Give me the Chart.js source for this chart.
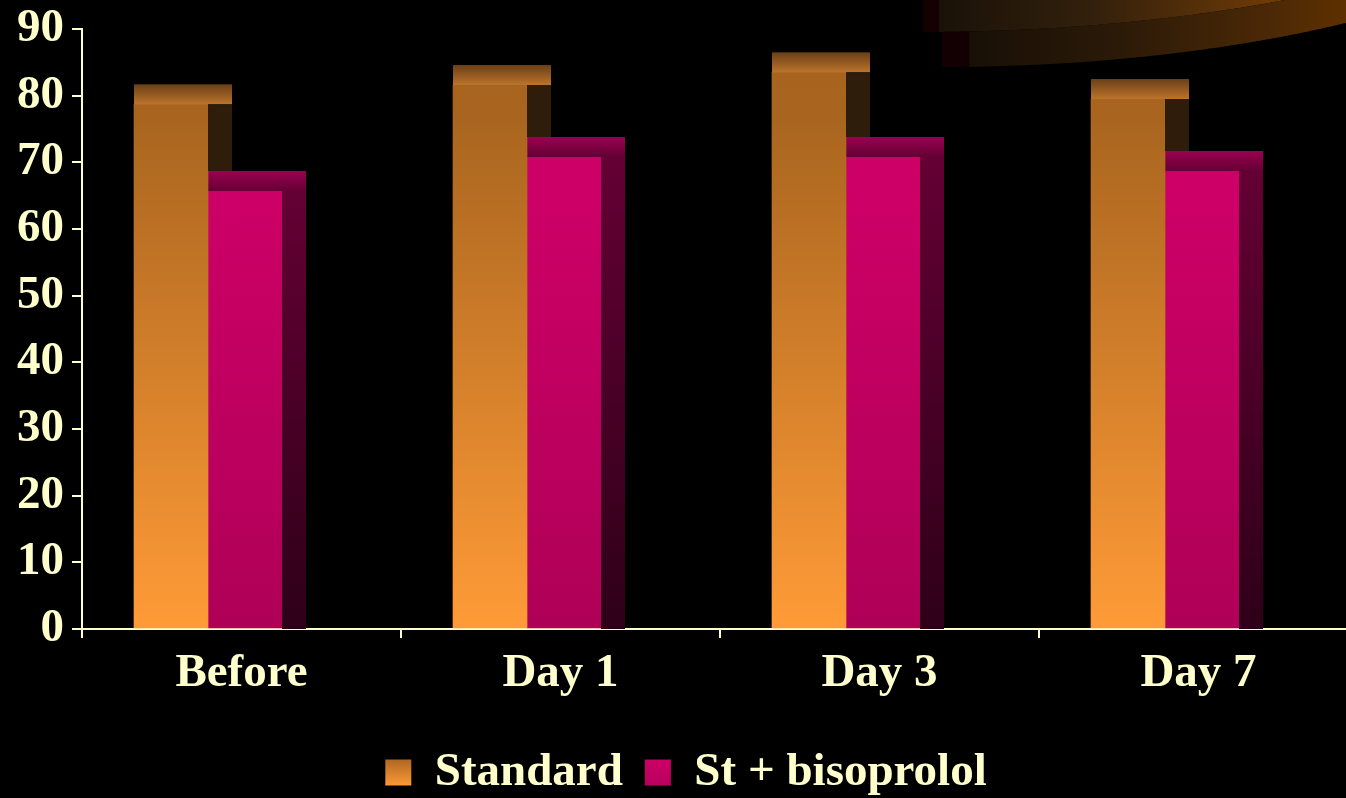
<!DOCTYPE html>
<html>
<head>
<meta charset="utf-8">
<title>Standard vs St + bisoprolol</title>
<script src="https://cdn.jsdelivr.net/npm/chart.js@4.4.1/dist/chart.umd.min.js"></script>
<style>
  html, body { margin: 0; padding: 0; background: #000; overflow: hidden; }
  #wrap { position: relative; width: 1360px; height: 806px; background: #000; }
  canvas { display: block; }
</style>
</head>
<body>
<div id="wrap"><canvas id="chart" width="1360" height="806"></canvas></div>
<script>
// ---- data ----
const categories = ['Before', 'Day 1', 'Day 3', 'Day 7'];
const seriesNames = ['Standard', 'St + bisoprolol'];
const standardValues = [78.7, 81.6, 83.5, 79.5];
const bisoprololValues = [65.7, 70.8, 70.8, 68.7];
const yTickValues = [0, 10, 20, 30, 40, 50, 60, 70, 80, 90];

// ---- styling ----
const FONT = "'Liberation Serif', 'Times New Roman', serif";
const CREAM = '#FFFFCC';
const DEPTH_X = 24;   // oblique depth of the 3D columns
const DEPTH_Y = 20;
const faces = [
  { front: [['0', '#A8641F'], ['0.15', '#A9651F'], ['1', '#FF9B37']],
    top: ['#6A3F17', '#BC742B'], side: ['#2F1D0C', '#2F1D0C'] },
  { front: [['0', '#CC0066'], ['0.3', '#CC0066'], ['1', '#AF0057']],
    top: ['#9A0050', '#640034'], side: ['#640034', '#2E0018'] }
];

function frontFill(index) {
  return (c) => {
    const area = c.chart.chartArea;
    if (!area) return faces[index].front[0][1];
    const g = c.chart.ctx.createLinearGradient(0, area.top, 0, area.bottom);
    faces[index].front.forEach(([o, col]) => g.addColorStop(+o, col));
    return g;
  };
}

// side and top faces of each column, drawn right after its own dataset;
// a side face stops where the next series' column (in front of it) begins
const columns3d = {
  id: 'columns3d',
  afterDatasetDraw(chart, args) {
    const ctx = chart.ctx;
    const di = args.index;
    const st = faces[di];
    const base = chart.scales.y.getPixelForValue(0);
    const nextMeta = di + 1 < chart.data.datasets.length ? chart.getDatasetMeta(di + 1) : null;
    ctx.save();
    args.meta.data.forEach((bar, i) => {
      const { x, y, width } = bar.getProps(['x', 'y', 'width'], true);
      const left = x - width / 2, right = x + width / 2;
      let g = ctx.createLinearGradient(0, y - DEPTH_Y, 0, y);
      g.addColorStop(0, st.top[0]); g.addColorStop(1, st.top[1]);
      ctx.fillStyle = g;
      ctx.fillRect(left, y - DEPTH_Y, width + DEPTH_X, DEPTH_Y);
      let sideBottom = base;
      if (nextMeta && nextMeta.data[i]) {
        const nb = nextMeta.data[i].getProps(['y'], true);
        sideBottom = Math.min(base, nb.y - DEPTH_Y);
      }
      if (sideBottom > y) {
        g = ctx.createLinearGradient(0, y, 0, base);
        g.addColorStop(0, st.side[0]); g.addColorStop(1, st.side[1]);
        ctx.fillStyle = g;
        ctx.fillRect(right, y, DEPTH_X, sideBottom - y);
      }
    });
    ctx.restore();
  }
};

// sweeping bronze ribbon in the top right corner
const ribbon = {
  id: 'ribbon',
  beforeDraw(chart) {
    const ctx = chart.ctx;
    const W = chart.width;
    const curve = (cx, cy, a, b, x) => {
      const u = (x - cx) / a;
      return cy + b * Math.sqrt(Math.max(0, 1 - u * u));
    };
    const upper = (x) => curve(920, -200, 720, 232, x);
    const lower = (x) => curve(940, -171, 700, 238, x);
    ctx.save();
    // upper band
    ctx.beginPath();
    ctx.moveTo(923, 0);
    for (let x = 923; x <= W; x += 2) ctx.lineTo(x, upper(x));
    ctx.lineTo(W, 0);
    ctx.closePath();
    let g = ctx.createLinearGradient(923, 0, 1346, 0);
    g.addColorStop(0, '#140000');
    g.addColorStop(0.035, '#140000');
    g.addColorStop(0.04, '#1A1208');
    g.addColorStop(0.4, '#32200C');
    g.addColorStop(0.7, '#5C3208');
    g.addColorStop(0.9, '#7C4004');
    g.addColorStop(1, '#7E4204');
    ctx.fillStyle = g;
    ctx.fill();
    // lower band
    ctx.beginPath();
    ctx.moveTo(942, upper(942));
    for (let x = 942; x <= W; x += 2) ctx.lineTo(x, upper(x));
    for (let x = W; x >= 942; x -= 2) ctx.lineTo(x, lower(x));
    ctx.closePath();
    g = ctx.createLinearGradient(942, 0, 1346, 0);
    g.addColorStop(0, '#120002');
    g.addColorStop(0.065, '#120002');
    g.addColorStop(0.07, '#181006');
    g.addColorStop(0.45, '#2C1A08');
    g.addColorStop(0.8, '#4A2806');
    g.addColorStop(1, '#5E3000');
    ctx.fillStyle = g;
    ctx.fill();
    ctx.restore();
  }
};

const toPoints = (arr) => arr.map((v, i) => ({ x: i, y: v }));
const SHIFT = 0.105; // columns sit a little left of their category centre

const chart = new Chart(document.getElementById('chart'), {
  type: 'bar',
  data: {
    labels: categories,
    datasets: [
      { label: seriesNames[0], data: toPoints(standardValues), xAxisID: 'xb', yAxisID: 'y',
        backgroundColor: frontFill(0), borderWidth: 0 },
      { label: seriesNames[1], data: toPoints(bisoprololValues), xAxisID: 'xb', yAxisID: 'y',
        backgroundColor: frontFill(1), borderWidth: 0 }
    ]
  },
  options: {
    responsive: false,
    animation: false,
    devicePixelRatio: 1,
    layout: { padding: { left: 14, right: 2, top: 29, bottom: 0 } },
    datasets: { bar: { barThickness: 74, grouped: true } },
    scales: {
      x: {
        type: 'category',
        position: 'bottom',
        offset: true,
        z: 1,
        grid: { display: true, offset: true, drawOnChartArea: false, drawTicks: true,
                tickLength: 9, tickWidth: 2, tickColor: CREAM, color: CREAM, lineWidth: 2 },
        border: { display: true, color: CREAM, width: 2 },
        ticks: { color: CREAM, padding: 8, maxRotation: 0, autoSkip: false,
                 font: { family: FONT, size: 47, weight: 'bold' } },
        afterFit(scale) { scale.height = 98; }
      },
      xb: {
        type: 'linear',
        display: false,
        offset: false,
        grid: { offset: false },
        min: -0.5 + SHIFT,
        max: 3.5 + SHIFT
      },
      y: {
        type: 'linear',
        position: 'left',
        min: 0,
        max: 90,
        z: 1,
        afterBuildTicks(scale) { scale.ticks = yTickValues.map((v) => ({ value: v })); },
        grid: { display: true, drawOnChartArea: false, drawTicks: true,
                tickLength: 10, tickWidth: 2, tickColor: CREAM, color: CREAM, lineWidth: 2 },
        border: { display: true, color: CREAM, width: 2 },
        ticks: { color: CREAM, padding: 8,
                 font: { family: FONT, size: 47, weight: 'bold' } },
        afterFit(scale) {
          scale.width = 68;
          scale.paddingTop = 0;
          scale.paddingBottom = 0;
        }
      }
    },
    plugins: {
      tooltip: { enabled: false },
      title: { display: false },
      legend: {
        display: true,
        position: 'bottom',
        align: 'center',
        labels: {
          color: CREAM,
          boxWidth: 26,
          boxHeight: 26,
          padding: 22,
          font: { family: FONT, size: 47, weight: 'bold' },
          generateLabels(ch) {
            const ctx = ch.ctx;
            const g1 = ctx.createLinearGradient(0, 759, 0, 786);
            g1.addColorStop(0, '#AC6622'); g1.addColorStop(1, '#FF9A36');
            const g2 = ctx.createLinearGradient(0, 759, 0, 786);
            g2.addColorStop(0, '#CC0066'); g2.addColorStop(1, '#B8005E');
            return seriesNames.map((t, i) => ({
              text: t, fillStyle: [g1, g2][i], strokeStyle: 'rgba(0,0,0,0)',
              lineWidth: 0, hidden: false, datasetIndex: i, fontColor: CREAM
            }));
          }
        }
      }
    }
  },
  plugins: [ribbon, columns3d]
});
</script>
</body>
</html>
